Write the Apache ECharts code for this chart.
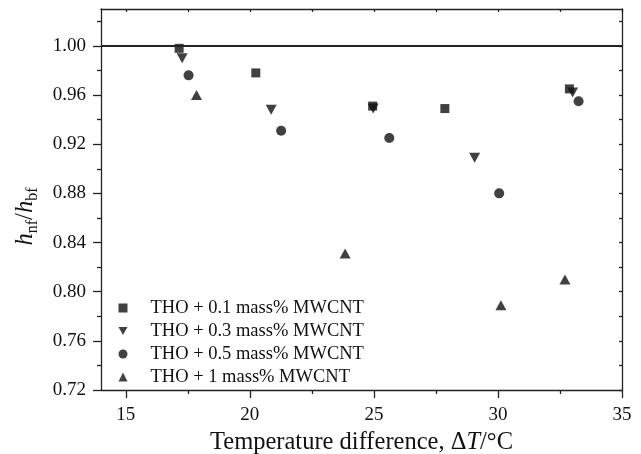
<!DOCTYPE html>
<html><head><meta charset="utf-8">
<script src="https://cdn.jsdelivr.net/npm/echarts@6/dist/echarts.min.js"></script>
<style>html,body{margin:0;padding:0;background:#fff}#c{width:641px;height:454px}</style>
</head><body><div id="c"></div>
<script>
// ---- data ----
const seriesNames = ['THO + 0.1 mass% MWCNT', 'THO + 0.3 mass% MWCNT', 'THO + 0.5 mass% MWCNT', 'THO + 1 mass% MWCNT'];
const x01 = [17.15, 20.24, 24.95, 27.86, 32.88];
const y01 = [0.998, 0.978, 0.951, 0.949, 0.965];
const x03 = [17.27, 20.86, 24.97, 29.06, 33.01];
const y03 = [0.990, 0.948, 0.949, 0.909, 0.962];
const x05 = [17.53, 21.26, 25.62, 30.05, 33.25];
const y05 = [0.976, 0.931, 0.925, 0.880, 0.955];
const x10 = [17.85, 23.84, 30.12, 32.70];
const y10 = [0.960, 0.831, 0.789, 0.810];
const refLine = [1.00];
const xMajorTicks = [15, 20, 25, 30, 35];
const xMinorTicks = [17.5, 22.5, 27.5, 32.5];
const yMajorTicks = [0.72, 0.76, 0.80, 0.84, 0.88, 0.92, 0.96, 1.00];
const yMinorTicks = [0.74, 0.78, 0.82, 0.86, 0.90, 0.94, 0.98, 1.02];
const xRange = [14, 35];
const yRange = [0.72, 1.03];

// ---- chart ----
const FF = 'Liberation Serif';
const INK = '#111';
const zip = (xs, ys) => xs.map((v, i) => [v, ys[i]]);
const allX = xMajorTicks.concat(xMinorTicks);
const allY = yMajorTicks.concat(yMinorTicks);
const gridRect = { left: 101, right: 19, top: 9, bottom: 64, outerBoundsMode: 'none', containLabel: false };
const downTri = 'path://M0,0L10,0L5,9Z';

const chart = echarts.init(document.getElementById('c'), null, { renderer: 'canvas' });
const lineStyle = { color: '#222', width: 1.3 };
const baseAxis = (extra) => Object.assign({
  type: 'value', splitLine: { show: false }, axisLine: { show: false },
  axisLabel: { show: false }, axisTick: { show: false }
}, extra);

chart.setOption({
  animation: false,
  backgroundColor: '#fff',
  grid: [Object.assign({}, gridRect), Object.assign({}, gridRect)],
  legend: {
    orient: 'vertical', left: 113.5, top: 293,
    itemWidth: 9, itemHeight: 9, itemGap: 3,
    textStyle: { fontFamily: FF, fontSize: 18.5, color: INK, lineHeight: 20, padding: [0, 0, 0, 18] },
    data: [
      { name: seriesNames[0], icon: 'rect' },
      { name: seriesNames[1], icon: downTri },
      { name: seriesNames[2], icon: 'circle' },
      { name: seriesNames[3], icon: 'triangle' }
    ]
  },
  xAxis: [
    baseAxis({
      gridIndex: 0, position: 'bottom', min: xRange[0], max: xRange[1],
      axisLine: { show: true, onZero: false, lineStyle },
      axisTick: { show: true, length: 8, lineStyle, customValues: xMajorTicks },
      axisLabel: { show: true, margin: 16, fontFamily: FF, fontSize: 19, color: INK, customValues: xMajorTicks },
      name: '{n|Temperature difference, \u0394}{i|T}{n|/\u00B0C}',
      nameLocation: 'middle', nameGap: 40,
      nameTextStyle: {
        rich: {
          n: { fontFamily: FF, fontSize: 24.5, color: INK, lineHeight: 24 },
          i: { fontFamily: FF, fontSize: 24.5, color: INK, lineHeight: 24, fontStyle: 'italic' }
        }
      }
    }),
    baseAxis({
      gridIndex: 0, position: 'top', min: xRange[0], max: xRange[1],
      axisLine: { show: true, onZero: false, lineStyle },
      axisTick: { show: true, inside: true, length: 3, lineStyle, customValues: allX }
    }),
    baseAxis({
      gridIndex: 1, position: 'bottom', min: xRange[0], max: xRange[1],
      axisTick: { show: true, length: 4, lineStyle, customValues: xMinorTicks }
    })
  ],
  yAxis: [
    baseAxis({
      gridIndex: 0, position: 'left', min: yRange[0], max: yRange[1],
      axisLine: { show: true, onZero: false, lineStyle },
      axisTick: { show: true, length: 8, lineStyle, customValues: yMajorTicks },
      axisLabel: { show: true, margin: 15, fontFamily: FF, fontSize: 19, color: INK, customValues: yMajorTicks,
        formatter: v => v.toFixed(2) },
      name: '{i|h}{s|nf}{n|/}{i|h}{s|bf}',
      nameLocation: 'middle', nameGap: 64,
      nameTextStyle: {
        padding: [0, 34, 0, 0],
        rich: {
          i: { fontFamily: FF, fontSize: 24.5, color: INK, lineHeight: 24, fontStyle: 'italic', verticalAlign: 'top' },
          n: { fontFamily: FF, fontSize: 24.5, color: INK, lineHeight: 24, verticalAlign: 'top' },
          s: { fontFamily: FF, fontSize: 16, color: INK, lineHeight: 16, padding: [12, 0, 0, 0], verticalAlign: 'top' }
        }
      }
    }),
    baseAxis({
      gridIndex: 0, position: 'right', min: yRange[0], max: yRange[1],
      axisLine: { show: true, onZero: false, lineStyle },
      axisTick: { show: true, inside: true, length: 3, lineStyle, customValues: allY }
    }),
    baseAxis({
      gridIndex: 1, position: 'left', min: yRange[0], max: yRange[1],
      axisTick: { show: true, length: 4, lineStyle, customValues: yMinorTicks }
    })
  ],
  series: [
    {
      name: seriesNames[0], type: 'scatter', symbol: 'rect', symbolSize: 9,
      itemStyle: { color: INK }, data: zip(x01, y01),
      markLine: {
        silent: true, symbol: 'none', label: { show: false },
        lineStyle: { color: '#222', width: 1.8, type: 'solid' },
        data: refLine.map(v => ({ yAxis: v }))
      }
    },
    { name: seriesNames[1], type: 'scatter', symbol: 'triangle', symbolRotate: 180, symbolSize: [11, 10],
      itemStyle: { color: INK }, data: zip(x03, y03) },
    { name: seriesNames[2], type: 'scatter', symbol: 'circle', symbolSize: 10,
      itemStyle: { color: INK }, data: zip(x05, y05) },
    { name: seriesNames[3], type: 'scatter', symbol: 'triangle', symbolSize: [11, 10],
      itemStyle: { color: INK }, data: zip(x10, y10) }
  ]
});
</script></body></html>
